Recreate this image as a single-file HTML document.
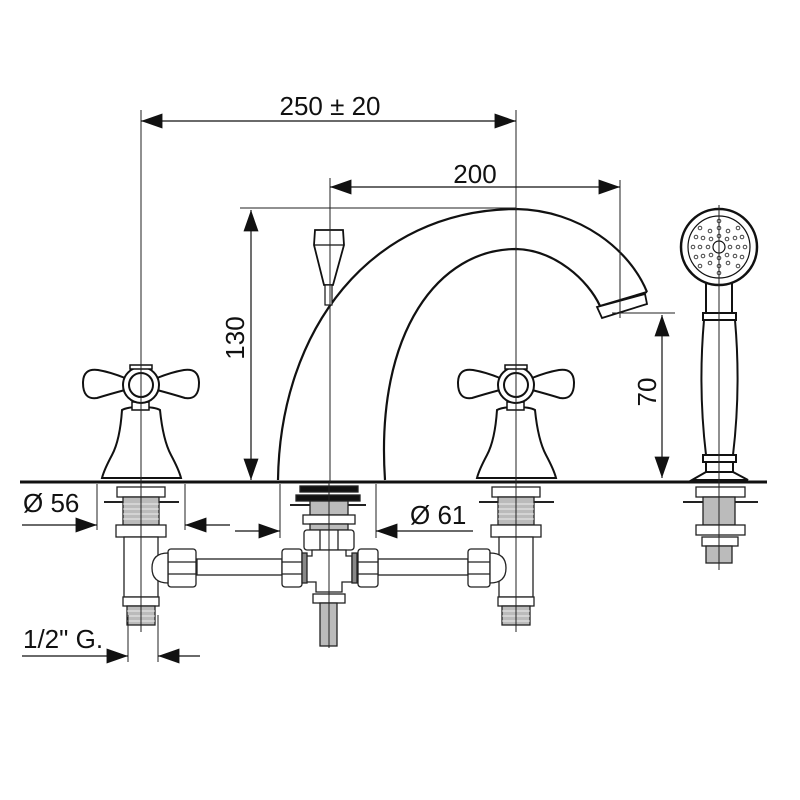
<!DOCTYPE html>
<html><head><meta charset="utf-8"><style>html,body{margin:0;padding:0;background:#fff}svg{display:block}text{font-family:"Liberation Sans",sans-serif;fill:#111}</style></head>
<body>
<svg width="800" height="800" viewBox="0 0 800 800" xmlns="http://www.w3.org/2000/svg">
<defs>
<marker id="ar" viewBox="0 0 20 14" refX="20" refY="7" markerWidth="22" markerHeight="15" markerUnits="userSpaceOnUse" orient="auto-start-reverse"><path d="M0,0 L20,7 L0,14 Z" fill="#111"/></marker>
<g id="valveUnder" stroke="#222" fill="#fff" stroke-width="1.3">
  <rect x="-24" y="487" width="48" height="10"/>
  <line x1="-37" y1="502" x2="38" y2="502" stroke-width="2"/>
  <rect x="-18" y="497" width="36" height="28" fill="#bbb"/>
  <g stroke="#fff" stroke-width="0.8"><line x1="-18" y1="504" x2="18" y2="504"/><line x1="-18" y1="509" x2="18" y2="509"/><line x1="-18" y1="514" x2="18" y2="514"/><line x1="-18" y1="519" x2="18" y2="519"/></g>
  <rect x="-25" y="525" width="50" height="12"/>
  <rect x="-17" y="537" width="34" height="60"/>
  <rect x="-18" y="597" width="36" height="9"/>
  <rect x="-14" y="606" width="28" height="19" fill="#bbb"/>
  <g stroke="#fff" stroke-width="0.8"><line x1="-14" y1="611" x2="14" y2="611"/><line x1="-14" y1="616" x2="14" y2="616"/><line x1="-14" y1="621" x2="14" y2="621"/></g>
</g>
<g id="handle" stroke="#111" fill="#fff" stroke-width="2">
  <path d="M-18,410 Q-20,440 -28,455 Q-36,470 -38,478 L41,478 Q39,470 31,455 Q23,440 20,410 Q15,407 1,407 Q-13,407 -18,410 Z"/>
  <rect x="-8" y="402" width="17" height="8" stroke-width="1.5"/>
  <path d="M-15,378 Q-30,372 -42,370 Q-57,368 -57,383 Q-57,400 -43,398 Q-30,394 -15,390 Z"/>
  <path d="M17,378 Q32,372 44,370 Q59,368 59,383 Q59,400 45,398 Q32,394 17,390 Z"/>
  <circle cx="1" cy="385" r="18"/>
  <circle cx="1" cy="385" r="12"/>
  <rect x="-10" y="365" width="22" height="4" stroke-width="1.5"/>
</g>
</defs>

<line x1="20" y1="482" x2="767" y2="482" stroke="#111" stroke-width="3"/>

<path d="M278,480 C280,330 370,210 516,209 C580,210 630,250 647,292" fill="none" stroke="#111" stroke-width="2.2"/>
<path d="M385,480 C375,330 440,249 516,249 C555,250 588,280 600,306" fill="none" stroke="#111" stroke-width="2.2"/>
<path d="M647,292 L600,306" stroke="#111" stroke-width="2"/>
<path d="M597,307 L645,294 L647,304 L602,318 Z" fill="#fff" stroke="#111" stroke-width="1.8"/>
<path d="M315,230 L343,230 L344,245 L333,285 L324,285 L314,245 Z" fill="#fff" stroke="#111" stroke-width="1.8"/>
<line x1="314" y1="245" x2="344" y2="245" stroke="#111" stroke-width="1.2"/>
<rect x="325" y="285" width="7" height="20" fill="#fff" stroke="#111" stroke-width="1.2"/>

<use href="#handle" x="140"/>
<use href="#handle" x="515"/>

<g stroke="#111" fill="#fff" stroke-width="2">
  <rect x="706" y="283" width="26" height="30"/>
  <rect x="703" y="313" width="33" height="7"/>
  <path d="M704,320 Q698,388 706,455 L733,455 Q741,388 735,320 Z"/>
  <rect x="703" y="455" width="33" height="7"/>
  <rect x="706" y="462" width="27" height="10"/>
  <path d="M706,472 L733,472 L748,480 L692,480 Z"/>
  <circle cx="719" cy="247" r="38" stroke-width="2.5"/>
  <circle cx="719" cy="247" r="31" stroke-width="1.2"/>
  <circle cx="719" cy="247" r="6" stroke-width="1.2"/>
</g>
<g fill="none" stroke="#444" stroke-width="1">
  <circle cx="730" cy="247" r="1.8"/><circle cx="708" cy="247" r="1.8"/><circle cx="719" cy="236" r="1.8"/><circle cx="719" cy="258" r="1.8"/>
  <circle cx="727" cy="239" r="1.8"/><circle cx="711" cy="239" r="1.8"/><circle cx="727" cy="255" r="1.8"/><circle cx="711" cy="255" r="1.8"/>
  <circle cx="738" cy="247" r="1.8"/><circle cx="700" cy="247" r="1.8"/><circle cx="719" cy="228" r="1.8"/><circle cx="719" cy="266" r="1.8"/>
  <circle cx="735" cy="238" r="1.8"/><circle cx="703" cy="238" r="1.8"/><circle cx="735" cy="256" r="1.8"/><circle cx="703" cy="256" r="1.8"/>
  <circle cx="728" cy="231" r="1.8"/><circle cx="710" cy="231" r="1.8"/><circle cx="728" cy="263" r="1.8"/><circle cx="710" cy="263" r="1.8"/>
  <circle cx="745" cy="247" r="1.8"/><circle cx="693" cy="247" r="1.8"/><circle cx="719" cy="221" r="1.8"/><circle cx="719" cy="273" r="1.8"/>
  <circle cx="738" cy="228" r="1.8"/><circle cx="700" cy="228" r="1.8"/><circle cx="738" cy="266" r="1.8"/><circle cx="700" cy="266" r="1.8"/>
  <circle cx="742" cy="237" r="1.8"/><circle cx="696" cy="237" r="1.8"/><circle cx="742" cy="257" r="1.8"/><circle cx="696" cy="257" r="1.8"/>
</g>

<use href="#valveUnder" x="141"/>
<use href="#valveUnder" x="516"/>
<g stroke="#222" fill="#fff" stroke-width="1.3">
  <rect x="696" y="487" width="49" height="10"/>
  <line x1="683" y1="502" x2="758" y2="502" stroke-width="2"/>
  <rect x="703" y="497" width="32" height="28" fill="#bbb"/>
  <rect x="696" y="525" width="49" height="10"/>
  <rect x="702" y="537" width="36" height="9"/>
  <rect x="706" y="546" width="26" height="17" fill="#bbb"/>
</g>

<g stroke="#222" fill="#fff" stroke-width="1.3">
  <rect x="300" y="486" width="58" height="6" fill="#111"/>
  <rect x="296" y="495" width="64" height="6" fill="#111"/>
  <line x1="290" y1="505" x2="366" y2="505" stroke-width="2"/>
  <rect x="310" y="501" width="38" height="14" fill="#bbb"/>
  <rect x="303" y="515" width="52" height="9"/>
  <rect x="310" y="524" width="38" height="6" fill="#bbb"/>
  <rect x="304" y="530" width="50" height="20" rx="3"/>
  <line x1="320" y1="530" x2="320" y2="550"/><line x1="338" y1="530" x2="338" y2="550"/>
  <path d="M312,550 L346,550 L346,556 L352,556 L352,582 L342,582 L342,592 L316,592 L316,582 L306,582 L306,556 L312,556 Z"/>
  <rect x="313" y="594" width="32" height="9"/>
  <rect x="320" y="603" width="17" height="43" fill="#bbb"/>
  <rect x="197" y="559" width="85" height="16"/>
  <rect x="378" y="559" width="90" height="16"/>
  <rect x="168" y="549" width="28" height="38" rx="3"/><line x1="168" y1="562" x2="196" y2="562"/><line x1="168" y1="574" x2="196" y2="574"/>
  <path d="M168,553 Q152,553 152,568 Q152,583 168,583 Z"/>
  <rect x="282" y="549" width="20" height="38" rx="3"/><line x1="282" y1="562" x2="302" y2="562"/><line x1="282" y1="574" x2="302" y2="574"/>
  <rect x="302" y="553" width="5" height="30" fill="#888"/>
  <rect x="358" y="549" width="20" height="38" rx="3"/><line x1="358" y1="562" x2="378" y2="562"/><line x1="358" y1="574" x2="378" y2="574"/>
  <rect x="352" y="553" width="5" height="30" fill="#888"/>
  <rect x="468" y="549" width="22" height="38" rx="3"/><line x1="468" y1="562" x2="490" y2="562"/><line x1="468" y1="574" x2="490" y2="574"/>
  <path d="M490,553 Q506,553 506,568 Q506,583 490,583 Z"/>
</g>

<g stroke="#222" stroke-width="1" fill="none">
  <line x1="141" y1="110" x2="141" y2="632"/>
  <line x1="516" y1="110" x2="516" y2="632"/>
  <line x1="330" y1="178" x2="330" y2="482"/>
  <line x1="329" y1="482" x2="329" y2="648"/>
  <line x1="620" y1="180" x2="620" y2="318"/>
  <line x1="719" y1="205" x2="719" y2="570"/>
  <line x1="240" y1="208" x2="516" y2="208"/>
  <line x1="612" y1="313" x2="675" y2="313"/>
  <line x1="97" y1="484" x2="97" y2="530"/>
  <line x1="185" y1="484" x2="185" y2="530"/>
  <line x1="280" y1="484" x2="280" y2="538"/>
  <line x1="376" y1="484" x2="376" y2="538"/>
  <line x1="128" y1="615" x2="128" y2="662"/>
  <line x1="158" y1="615" x2="158" y2="662"/>
</g>

<g stroke="#111" stroke-width="1.2" fill="none">
  <line x1="141" y1="121" x2="516" y2="121" marker-start="url(#ar)" marker-end="url(#ar)"/>
  <line x1="330" y1="187" x2="620" y2="187" marker-start="url(#ar)" marker-end="url(#ar)"/>
  <line x1="251" y1="480" x2="251" y2="210" marker-start="url(#ar)" marker-end="url(#ar)"/>
  <line x1="662" y1="478" x2="662" y2="315" marker-start="url(#ar)" marker-end="url(#ar)"/>
  <line x1="22" y1="525" x2="97" y2="525" marker-end="url(#ar)"/>
  <line x1="230" y1="525" x2="185" y2="525" marker-end="url(#ar)"/>
  <line x1="235" y1="531" x2="280" y2="531" marker-end="url(#ar)"/>
  <line x1="473" y1="531" x2="376" y2="531" marker-end="url(#ar)"/>
  <line x1="22" y1="656" x2="128" y2="656" marker-end="url(#ar)"/>
  <line x1="200" y1="656" x2="158" y2="656" marker-end="url(#ar)"/>
</g>

<text x="330" y="115" font-size="26" text-anchor="middle">250 ± 20</text>
<text x="475" y="183" font-size="26" text-anchor="middle">200</text>
<text transform="translate(244,338) rotate(-90)" font-size="26" text-anchor="middle">130</text>
<text transform="translate(656,392) rotate(-90)" font-size="26" text-anchor="middle">70</text>
<text x="23" y="512" font-size="26">Ø 56</text>
<text x="410" y="524" font-size="26">Ø 61</text>
<text x="23" y="648" font-size="26">1/2" G.</text>
</svg>
</body></html>
